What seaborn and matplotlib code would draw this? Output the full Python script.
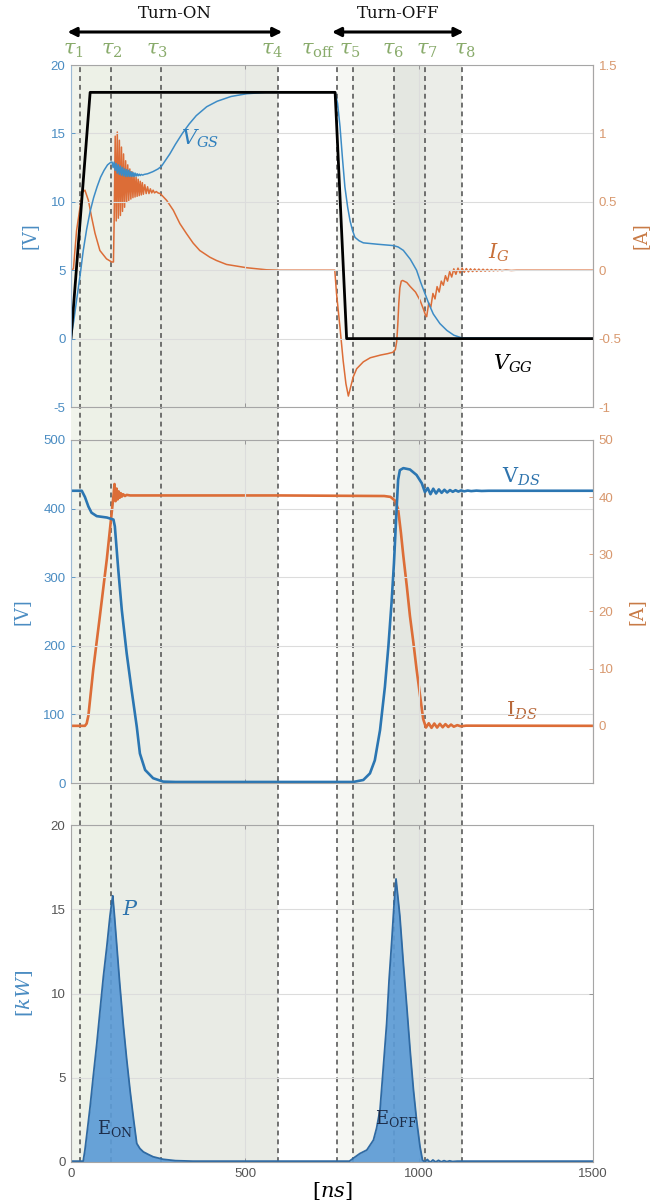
import matplotlib
matplotlib.use("Agg")
import matplotlib.pyplot as plt
import matplotlib.transforms as mtransforms
import seaborn as sns

# ---------------------------------------------------------------- data
# sub-interval instants [ns]
tau_names = [r"$\tau_1$", r"$\tau_2$", r"$\tau_3$", r"$\tau_4$", r"$\tau_{\mathrm{off}}$",
             r"$\tau_5$", r"$\tau_6$", r"$\tau_7$", r"$\tau_8$"]
tau_ns = [26, 115, 260, 595, 763, 811, 928, 1017, 1123]

# shaded sub-intervals [ns]
shade_start = [0, 26, 115, 260, 763, 811, 928, 1017]
shade_end = [26, 115, 260, 595, 811, 928, 1017, 1123]

# switching phases [ns]
phase_names = ["Turn-ON", "Turn-OFF"]
phase_start = [-10, 750]
phase_end = [607, 1128]

# gate driver voltage V_GG [V]
vgg_t = [0, 55, 759, 792, 1500]
vgg_v = [0, 18, 18, 0, 0]

# gate-source voltage V_GS [V]
vgs_t = [0, 8, 16, 26, 35, 45, 55, 65, 75, 85, 95, 105, 115,
         118, 121, 124, 127, 130, 133, 136, 139, 142, 145, 148, 151, 154, 157, 160,
         163, 166, 169, 172, 175, 178, 181, 184, 187, 190, 193, 196, 199, 202, 206,
         210, 220, 235, 250, 260, 284, 300, 320, 340, 360, 390, 420, 460, 505, 560,
         759, 766, 773, 780, 787, 795, 802, 809, 816, 828, 840, 880, 926, 940, 955,
         975, 993, 1005, 1017, 1029, 1041, 1060, 1080, 1100, 1123, 1500]
vgs_v = [0, 1.3, 2.8, 4.6, 6.4, 8.0, 9.3, 10.3, 11.1, 11.8, 12.3, 12.7, 12.9,
         12.9, 12.5, 12.9, 12.3, 12.8, 12.1, 12.7, 12.0, 12.6, 11.95, 12.5, 11.9, 12.4, 11.85, 12.35,
         11.85, 12.3, 11.85, 12.2, 11.85, 12.15, 11.85, 12.1, 11.88, 12.05, 11.9, 12.02, 11.92, 12.0, 11.95,
         12.0, 12.05, 12.2, 12.4, 12.6, 13.5, 14.2, 15.0, 15.7, 16.3, 16.95, 17.35, 17.7, 17.9, 18.0,
         18.0, 17.2, 15.5, 13.2, 11.1, 9.6, 8.6, 7.9, 7.4, 7.15, 7.0, 6.9, 6.8, 6.7, 6.45,
         5.8, 5.0, 4.1, 3.3, 2.5, 1.8, 1.1, 0.6, 0.25, 0.05, 0.0]

# gate current I_G [A]
ig_t = [0, 7, 16, 26, 33, 40, 50, 59, 69, 83, 102, 117, 122,
        124, 127, 130, 133, 136, 139, 142, 145, 148, 151, 154, 157, 160, 163, 166,
        169, 172, 175, 178, 181, 184, 187, 190, 193, 196, 199, 202, 205, 208, 212,
        216, 220, 224, 228, 232, 236, 240, 245, 250,
        256, 261, 275, 294, 313, 332, 351, 370, 399, 418, 447, 505, 562, 600,
        758, 763, 773, 782, 790, 797, 803, 811, 821, 840, 860, 890, 910, 925, 932,
        936, 939, 942, 945, 949, 953, 965, 975, 990, 1003, 1012, 1019,
        1022, 1028, 1034, 1040, 1046, 1052, 1058, 1064, 1070, 1076, 1082, 1088, 1094,
        1100, 1106, 1112, 1118, 1124, 1130, 1136, 1142, 1148, 1154, 1160, 1166, 1172,
        1178, 1184, 1190, 1196, 1202, 1208, 1214, 1220, 1226, 1232, 1238, 1250, 1265,
        1280, 1500]
ig_a = [0, 0.01, 0.29, 0.46, 0.57, 0.585, 0.51, 0.39, 0.27, 0.144, 0.083, 0.06, 0.06,
        0.36, 0.98, 0.36, 1.01, 0.38, 0.95, 0.40, 0.90, 0.43, 0.85, 0.46, 0.80, 0.50, 0.77, 0.51,
        0.74, 0.52, 0.72, 0.53, 0.70, 0.535, 0.68, 0.54, 0.665, 0.545, 0.65, 0.55, 0.64, 0.555, 0.625,
        0.56, 0.61, 0.56, 0.595, 0.565, 0.585, 0.565, 0.575, 0.565,
        0.56, 0.548, 0.51, 0.438, 0.34, 0.267, 0.198, 0.144, 0.095, 0.071, 0.042, 0.018, 0.003, 0.0,
        0.0, -0.17, -0.42, -0.66, -0.83, -0.92, -0.86, -0.78, -0.72, -0.67, -0.64, -0.62, -0.61, -0.60, -0.58,
        -0.52, -0.40, -0.24, -0.13, -0.08, -0.075, -0.09, -0.12, -0.16, -0.22, -0.28, -0.33,
        -0.34, -0.24, -0.27, -0.17, -0.21, -0.12, -0.16, -0.08, -0.11, -0.04, -0.08, -0.01, -0.05,
        0.01, -0.03, 0.015, -0.02, 0.015, -0.015, 0.012, -0.012, 0.01, -0.01, 0.009, -0.009, 0.008,
        -0.008, 0.007, -0.007, 0.006, -0.006, 0.005, -0.005, 0.004, -0.004, 0.003, -0.003, 0.002, -0.002,
        0.0, 0.0]

# drain-source voltage V_DS [V]
vds_t = [0, 31, 40, 50, 59, 74, 103, 122, 126, 136, 146, 160, 174, 189, 198, 213, 236, 265, 300,
         811, 840, 859, 873, 888, 902, 912, 921, 928, 934, 940, 945, 955, 974, 993, 1008, 1017,
         1025, 1033, 1041, 1049, 1057, 1065, 1073, 1081, 1089, 1097, 1105, 1113, 1121, 1130,
         1140, 1150, 1165, 1180, 1200, 1500]
vds_v = [426, 426, 417, 403, 394, 389, 387, 384, 374, 310, 252, 189, 136, 82, 43, 19, 7, 2, 1.5,
         1.5, 4.4, 14, 33, 77, 140, 199, 262, 320, 383, 442, 456, 459, 457, 449, 437, 424,
         430, 421, 429, 422, 428, 423, 427.5, 423.5, 427, 424.5, 426.8, 424.8, 426.5, 425.2,
         426.3, 425.5, 426.2, 425.7, 426, 426]

# drain-source current I_DS [A]
ids_t = [0, 40, 45, 50, 64, 83, 103, 117, 122, 125, 128, 131, 134, 137, 140, 143, 146, 150, 155,
         160, 170, 190, 600, 900, 918, 931, 940, 948, 955, 965, 974, 984, 993, 1003, 1012, 1020,
         1028, 1036, 1044, 1052, 1060, 1068, 1076, 1084, 1092, 1100, 1110, 1120, 1135, 1500]
ids_a = [0, 0, 0.4, 1.8, 9.9, 19.2, 29.2, 37.3, 40.2, 42.3, 39.3, 41.5, 39.6, 41.0, 39.9, 40.7, 40.1, 40.5, 40.2,
         40.4, 40.3, 40.3, 40.3, 40.2, 40.05, 39.4, 37.9, 33.8, 29.7, 24.4, 19.2, 14.5, 9.9, 5.3, 1.2, -0.3,
         0.45, -0.35, 0.4, -0.3, 0.35, -0.25, 0.3, -0.2, 0.22, -0.15, 0.12, -0.08, 0.03, 0.0]

# instantaneous power P [kW]
p_t = [0, 35, 40, 47, 55, 64, 74, 83, 93, 103, 112, 117, 120, 125, 131, 140, 150, 160, 170, 180,
       189, 198, 208, 222, 236, 265, 300, 350, 800, 811, 830, 850, 869, 878, 888, 897, 907, 914,
       922, 928, 934, 940, 945, 955, 965, 975, 984, 993, 1003, 1010, 1016, 1024, 1032, 1040, 1048,
       1056, 1064, 1072, 1080, 1088, 1096, 1110, 1500]
p_kw = [0.05, 0.05, 0.7, 1.9, 3.3, 5.1, 7.0, 8.9, 11.0, 12.8, 14.6, 15.4, 15.8, 14.6, 13.0, 10.6, 8.2, 6.1, 4.2, 2.5,
        1.1, 0.8, 0.6, 0.45, 0.31, 0.16, 0.08, 0.05, 0.05, 0.22, 0.5, 0.71, 1.3, 2.0, 3.1, 5.5, 8.2, 10.8,
        13.2, 15.2, 16.8, 15.6, 14.6, 11.8, 9.2, 6.5, 4.3, 2.5, 0.9, 0.12, 0.0, 0.15, -0.02, 0.12, 0.0,
        0.1, 0.01, 0.08, 0.02, 0.07, 0.03, 0.05, 0.05]

# axis ticks
x_ticks = [0, 500, 1000, 1500]
vg_ticks = [-5, 0, 5, 10, 15, 20]
ig_ticks = [-1, -0.5, 0, 0.5, 1, 1.5]
ig_tick_labels = ["-1", "-0.5", "0", "0.5", "1", "1.5"]
vds_ticks = [0, 100, 200, 300, 400, 500]
ids_ticks = [0, 10, 20, 30, 40, 50]
p_ticks = [0, 5, 10, 15, 20]

# ---------------------------------------------------------------- style
BLUE = "#3d8cc6"
BLUE_DARK = "#2b76b2"
ORANGE = "#dc6d37"
BLUE_TXT = "#4a8cc2"
ORANGE_TXT = "#d8986e"
GREEN_TXT = "#89ab6b"
GRID = "#dcdcdc"
shade_colors = ["#f1f4ec", "#edf1e7", "#eaede6", "#e9ebe5", "#f6f7f3", "#eff1eb", "#e4e7e1", "#ebede8"]
label_dx_px = [-7, 1, -5, -6, -19, -3, -1, 2, 3]

sns.set_theme(style="white")
plt.rcParams["font.family"] = ["Liberation Sans", "DejaVu Sans"]
plt.rcParams["mathtext.fontset"] = "dejavuserif"
SERIF = ["DejaVu Serif"]

W, H = 654, 1203
X0, X1 = 71, 593
PW = X1 - X0
fig = plt.figure(figsize=(W / 100, H / 100), dpi=100)


def frame(top_px, bot_px):
    return [X0 / W, 1 - bot_px / H, PW / W, (bot_px - top_px) / H]


# background strip with the sub-interval shading and dashed markers
bg = fig.add_axes(frame(65, 1162), zorder=0)
bg.set_xlim(0, 1500)
bg.set_ylim(0, 1)
bg.axis("off")
for s, e, c in zip(shade_start, shade_end, shade_colors):
    bg.axvspan(s, e, color=c, lw=0)
for t in tau_ns:
    bg.axvline(t, color="#4d4d4d", lw=1.1, ls=(0, (3.2, 2.6)))

ax1 = fig.add_axes(frame(65, 407))
ax2 = fig.add_axes(frame(440, 783))
ax3 = fig.add_axes(frame(825, 1162))
ax1r = ax1.twinx()
ax2r = ax2.twinx()
for a in (ax1r, ax2r):
    a.set_zorder(2)
    a.patch.set_visible(False)
for a in (ax1, ax2, ax3):
    a.set_zorder(3)
    a.patch.set_visible(False)


def style_axes(ax, ticks, ylim, color, right=None, rticks=None, rlabels=None, rlim=None, show_x=False):
    ax.set_xlim(0, 1500)
    ax.set_xticks(x_ticks)
    ax.set_ylim(*ylim)
    ax.set_yticks(ticks)
    ax.set_yticklabels([str(v) for v in ticks])
    ax.grid(True, color=GRID, lw=0.8)
    ax.tick_params(axis="both", direction="in", length=3, width=0.6, labelsize=9.5, pad=4,
                   top=True, bottom=True)
    ax.tick_params(axis="y", colors=color, labelcolor=color)
    ax.tick_params(axis="x", colors="#8a8a8a", labelcolor="#555555")
    if not show_x:
        ax.set_xticklabels([])
    for side in ("top", "bottom"):
        ax.spines[side].set_color("#a6a6a6")
        ax.spines[side].set_linewidth(0.8)
    ax.spines["left"].set_color("#9dbad4" if right is not None else "#a6a6a6")
    ax.spines["left"].set_linewidth(0.8)
    ax.spines["right"].set_color("#a6a6a6")
    ax.spines["right"].set_linewidth(0.8)
    if right is not None:
        right.set_ylim(*rlim)
        right.set_yticks(rticks)
        right.set_yticklabels(rlabels)
        right.tick_params(axis="y", direction="in", length=3, width=0.6, labelsize=9.5, pad=4,
                          colors=ORANGE_TXT, labelcolor=ORANGE_TXT)
        right.spines["right"].set_color("#dcb59a")
        right.spines["right"].set_linewidth(0.8)
        for side in ("top", "bottom", "left"):
            right.spines[side].set_visible(False)
        right.grid(False)
    else:
        ax.tick_params(axis="y", right=True)


style_axes(ax1, vg_ticks, (-5, 20), BLUE_TXT, ax1r, ig_ticks, ig_tick_labels, (-1, 1.5))
style_axes(ax2, vds_ticks, (0, 500), BLUE_TXT, ax2r, ids_ticks, [str(v) for v in ids_ticks], (-10, 50))
style_axes(ax3, p_ticks, (0, 20), "#555555", show_x=True)
ax3.tick_params(axis="y", colors="#8a8a8a", labelcolor="#555555")

# ---------------------------------------------------------------- curves
sns.lineplot(x=ig_t, y=ig_a, ax=ax1r, color=ORANGE, lw=1.1, sort=False, estimator=None)
sns.lineplot(x=vgs_t, y=vgs_v, ax=ax1, color=BLUE, lw=1.1, sort=False, estimator=None)
sns.lineplot(x=vgg_t, y=vgg_v, ax=ax1, color="black", lw=2.0, sort=False, estimator=None)

sns.lineplot(x=ids_t, y=ids_a, ax=ax2r, color=ORANGE, lw=1.9, sort=False, estimator=None)
sns.lineplot(x=vds_t, y=vds_v, ax=ax2, color=BLUE_DARK, lw=1.9, sort=False, estimator=None)

ax3.fill_between(p_t, p_kw, 0, color="#5c9bd6", alpha=0.92, lw=0)
sns.lineplot(x=p_t, y=p_kw, ax=ax3, color="#2f6aa3", lw=1.3, sort=False, estimator=None)

# ---------------------------------------------------------------- labels
ax1.set_ylabel("[V]", family=SERIF, fontsize=13, color=BLUE_TXT)
ax1.yaxis.set_label_coords(-32 / PW, 0.5)
ax2.set_ylabel("[V]", family=SERIF, fontsize=13, color=BLUE_TXT)
ax2.yaxis.set_label_coords(-40 / PW, 0.5)
ax3.set_ylabel(r"$[kW]$", fontsize=14, color=BLUE_TXT)
ax3.yaxis.set_label_coords(-36 / PW, 0.5)
ax1r.set_ylabel("[A]", family=SERIF, fontsize=13, color="#c87a45", rotation=90)
ax1r.yaxis.set_label_coords(561 / PW, 0.5)
ax2r.set_ylabel("[A]", family=SERIF, fontsize=13, color="#c87a45", rotation=90)
ax2r.yaxis.set_label_coords(557 / PW, 0.5)
ax3.set_xlabel(r"$[ns]$", fontsize=15, color="black", labelpad=0)
for a in (ax1, ax2):
    a.set_xlabel("")

ax1.text(371, 14.6, r"$V_{GS}$", color="#2f7fbd", fontsize=15, ha="center", va="center")
ax1r.text(1228, 0.13, r"$I_G$", color="#c8703a", fontsize=15, ha="center", va="center")
ax1.text(1271, -1.85, r"$V_{GG}$", color="black", fontsize=15, ha="center", va="center")
ax2.text(1295, 446, r"$\mathrm{V}_{DS}$", color="#2f74ad", fontsize=15, ha="center", va="center")
ax2r.text(1295, 2.6, r"$\mathrm{I}_{DS}$", color="#b8683a", fontsize=15, ha="center", va="center")
ax3.text(170, 15.0, r"$P$", color="#2f74ad", fontsize=15, ha="center", va="center")
ax3.text(126, 2.0, r"$\mathrm{E}_{\mathrm{ON}}$", color="#1c2c48", fontsize=13, ha="center", va="center")
ax3.text(936, 2.6, r"$\mathrm{E}_{\mathrm{OFF}}$", color="#1c2c48", fontsize=13, ha="center", va="center")

# header: phase arrows and sub-interval names
hdr = mtransforms.blended_transform_factory(ax1.transData, fig.transFigure)
for name, s, e in zip(phase_names, phase_start, phase_end):
    ax1.annotate("", xy=(e, 1 - 32 / H), xytext=(s, 1 - 32 / H), xycoords=hdr, textcoords=hdr,
                 arrowprops=dict(arrowstyle="<|-|>", color="black", lw=2.2, mutation_scale=13,
                                 shrinkA=0, shrinkB=0), annotation_clip=False)
    ax1.text((s + e) / 2, 1 - 13 / H, name, transform=hdr, family=SERIF, fontsize=12,
             ha="center", va="center", color="#111111")
for name, t, dx in zip(tau_names, tau_ns, label_dx_px):
    ax1.annotate(name, xy=(t, 1 - 50 / H), xycoords=hdr, xytext=(dx * 0.72, 0),
                 textcoords="offset points", ha="center", va="center", fontsize=15,
                 color=GREEN_TXT, annotation_clip=False)

fig.savefig("out.png", dpi=100)
